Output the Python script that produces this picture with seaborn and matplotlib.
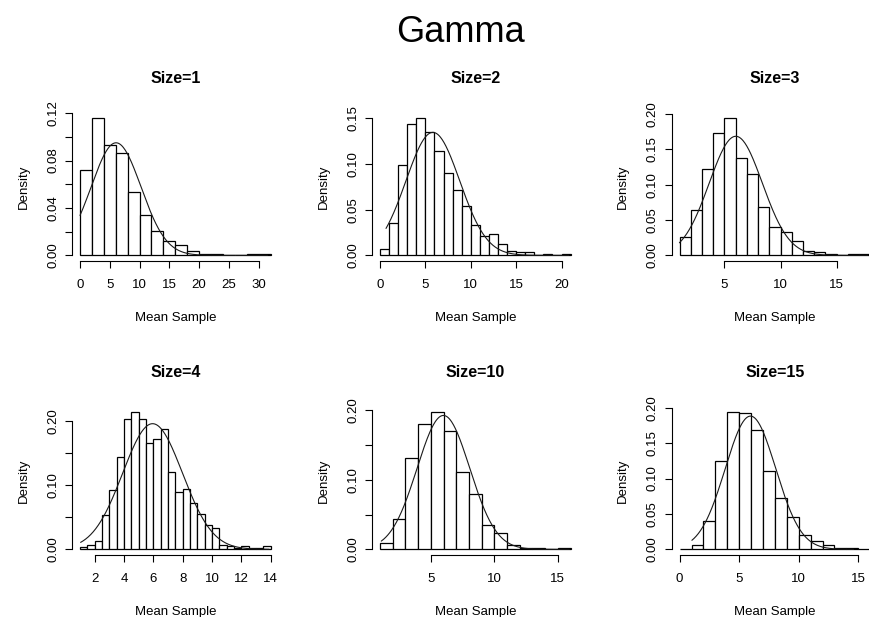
import numpy as np
import pandas as pd
import matplotlib
matplotlib.use("Agg")
import matplotlib.pyplot as plt
import seaborn as sns

# ---------------- data ----------------
titles = ["Size=1", "Size=2", "Size=3", "Size=4", "Size=10", "Size=15"]

breaks_1 = np.arange(0, 32.1, 2)
dens_1 = [0.0723, 0.1155, 0.093, 0.086, 0.0535, 0.034, 0.0208, 0.012,
          0.009, 0.004, 0.0012, 0.0012, 0.0, 0.0, 0.001, 0.001]

breaks_2 = np.arange(0, 21.1, 1)
dens_2 = [0.0066, 0.035, 0.099, 0.1434, 0.150, 0.1347, 0.1146, 0.090,
          0.0719, 0.0536, 0.0328, 0.021, 0.0237, 0.012, 0.005, 0.004,
          0.004, 0.0, 0.0015, 0.0, 0.0015]

breaks_3 = np.arange(1, 18.1, 1)
dens_3 = [0.0254, 0.0638, 0.1225, 0.173, 0.1935, 0.1376, 0.1155, 0.069,
          0.0404, 0.0333, 0.0202, 0.0056, 0.0047, 0.0019, 0.0, 0.0019, 0.0019]

breaks_4 = np.arange(1, 14.01, 0.5)
dens_4 = [0.0031, 0.0068, 0.0126, 0.054, 0.0919, 0.1444, 0.2026, 0.213,
          0.2026, 0.166, 0.172, 0.187, 0.120, 0.089, 0.094, 0.0714,
          0.0546, 0.0378, 0.0336, 0.0073, 0.0052, 0.0016, 0.0047, 0.0026,
          0.0026, 0.0052]

breaks_10 = np.arange(1, 16.1, 1)
dens_10 = [0.0087, 0.043, 0.1314, 0.181, 0.197, 0.171, 0.1106, 0.0797,
           0.0343, 0.0242, 0.0068, 0.0024, 0.0014, 0.0, 0.0014]

breaks_15 = np.arange(0, 16.1, 1)
dens_15 = [0.0, 0.0067, 0.0404, 0.125, 0.1933, 0.192, 0.169, 0.110, 0.0727,
           0.0456, 0.0204, 0.0114, 0.0062, 0.0014, 0.0014, 0.0]

# fitted normal curve parameters (mean, sd, x-start, x-end)
curve_mean = [6.05, 5.82, 6.01, 5.95, 5.99, 5.95]
curve_sd = [4.20, 2.96, 2.37, 2.04, 2.07, 2.12]
curve_from = [0.0, 0.66, 0.98, 1.04, 1.1, 1.03]
curve_to = [31.5, 20.8, 17.8, 13.9, 15.9, 14.6]

x_ticks = [[0, 5, 10, 15, 20, 25, 30], [0, 5, 10, 15, 20], [5, 10, 15],
           [2, 4, 6, 8, 10, 12, 14], [5, 10, 15], [0, 5, 10, 15]]
y_ticks = [[0.00, 0.02, 0.04, 0.06, 0.08, 0.10, 0.12],
           [0.00, 0.05, 0.10, 0.15],
           [0.00, 0.05, 0.10, 0.15, 0.20],
           [0.00, 0.05, 0.10, 0.15, 0.20],
           [0.00, 0.05, 0.10, 0.15, 0.20],
           [0.00, 0.05, 0.10, 0.15, 0.20]]
y_labelled = [[0.00, 0.04, 0.08, 0.12],
              [0.00, 0.05, 0.10, 0.15],
              [0.00, 0.05, 0.10, 0.15, 0.20],
              [0.00, 0.10, 0.20],
              [0.00, 0.10, 0.20],
              [0.00, 0.05, 0.10, 0.15, 0.20]]

all_breaks = [breaks_1, breaks_2, breaks_3, breaks_4, breaks_10, breaks_15]
all_dens = [dens_1, dens_2, dens_3, dens_4, dens_10, dens_15]

# ---------------- style ----------------
sns.set_theme(style="ticks", rc={
    "axes.edgecolor": "black", "text.color": "black",
    "xtick.color": "black", "ytick.color": "black",
    "axes.labelcolor": "black", "axes.linewidth": 0.8,
})
plt.rcParams["font.family"] = ["Liberation Sans", "DejaVu Sans"]

W, H = 869, 617
fig = plt.figure(figsize=(W / 100, H / 100), dpi=100)
fig.patch.set_facecolor("white")

col_left = [72.4, 372.4, 672.0]
row_top = [113.0, 407.0]
aw, ah = 205.8, 147.8

base_fs = 9.5

for i in range(6):
    r, c = divmod(i, 3)
    ax = fig.add_axes([col_left[c] / W, 1 - (row_top[r] + ah) / H, aw / W, ah / H])
    ax.set_facecolor("white")
    br = [float(b) for b in all_breaks[i]]
    dens = np.array(all_dens[i], dtype=float)
    centers = [(br[k] + br[k + 1]) / 2 for k in range(len(br) - 1)]
    df = pd.DataFrame({"x": centers, "w": dens})
    sns.histplot(data=df, x="x", weights="w", bins=br, stat="count",
                 color="white", edgecolor="black", linewidth=0.9, alpha=1.0,
                 ax=ax)
    xs = np.linspace(curve_from[i], curve_to[i], 300)
    ys = np.exp(-0.5 * ((xs - curve_mean[i]) / curve_sd[i]) ** 2) / (curve_sd[i] * np.sqrt(2 * np.pi))
    sns.lineplot(x=xs, y=ys, color="#1a1a1a", linewidth=0.8, ax=ax)

    lo, hi = br[0], br[-1]
    ax.set_xlim(lo - 0.04 * (hi - lo), hi + 0.04 * (hi - lo))
    ymax = dens.max()
    ax.set_ylim(-0.04 * ymax, ymax * 1.04)

    ax.set_xticks(x_ticks[i])
    ax.set_xticklabels([str(t) for t in x_ticks[i]], fontsize=base_fs)
    ax.set_yticks(y_ticks[i])
    ax.set_yticklabels([f"{t:.2f}" if any(abs(t - u) < 1e-9 for u in y_labelled[i]) else ""
                        for t in y_ticks[i]], fontsize=base_fs)
    for lab in ax.get_yticklabels():
        lab.set_rotation(90)
        lab.set_va("center")

    for s in ["top", "right"]:
        ax.spines[s].set_visible(False)
    ax.spines["bottom"].set_bounds(x_ticks[i][0], x_ticks[i][-1])
    ax.spines["left"].set_bounds(y_ticks[i][0], y_ticks[i][-1])
    ax.tick_params(axis="x", direction="out", length=5, width=0.8, pad=8)
    ax.tick_params(axis="y", direction="out", length=5, width=0.8, pad=4.5)

    ax.set_xlabel("Mean Sample", fontsize=base_fs)
    ax.xaxis.set_label_coords(0.5, -60 / ah)
    ax.xaxis.label.set_va("baseline")
    ax.set_ylabel("Density", fontsize=base_fs)
    ax.yaxis.set_label_coords((26.7 - 72.4) / aw, 0.5)
    ax.yaxis.label.set_va("baseline")

    ax.text(0.5, 1 + 30 / ah, titles[i], transform=ax.transAxes,
            ha="center", va="baseline", fontsize=11.5, fontweight="bold")

fig.text(460 / W, 1 - 42 / H, "Gamma", ha="center", va="baseline", fontsize=26)

fig.savefig("out.png", dpi=100, facecolor="white")
